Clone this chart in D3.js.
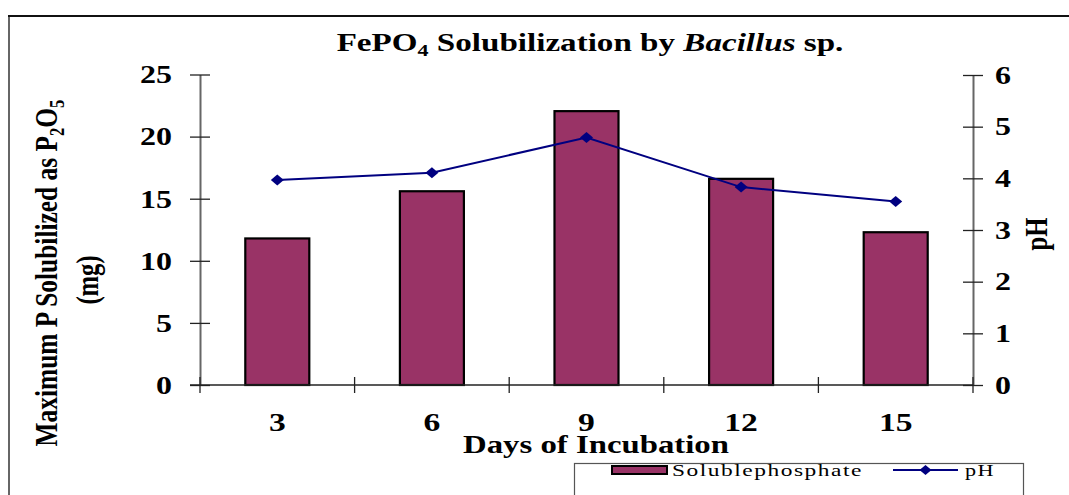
<!DOCTYPE html>
<html>
<head>
<meta charset="utf-8">
<script src="https://cdn.jsdelivr.net/npm/d3@7"></script>
<style>
  html, body { margin: 0; padding: 0; background: #fff; }
  svg { display: block; }
</style>
</head>
<body>
<svg id="chart" width="1069" height="495"></svg>
<script>
// Incubation days (categories) and the two measured series
const days = ["3", "6", "9", "12", "15"];
const solublePhosphate = [11.8, 15.6, 22.05, 16.6, 12.3];   // mg P2O5
const pHValues = [3.97, 4.11, 4.79, 3.83, 3.55];
const leftTicks = [0, 5, 10, 15, 20, 25];
const rightTicks = [0, 1, 2, 3, 4, 5, 6];
const seriesNames = ["Solublephosphate", "pH"];

const SQ = 0.77;            // vertical squash applied to all lettering
const SERIF = "'Liberation Serif', 'Times New Roman', serif";
const BAR_FILL = "#993366";
const LINE_COL = "#000080";

const svg = d3.select("#chart");

// Frame
svg.append("line").attr("x1", 9).attr("x2", 9).attr("y1", 15).attr("y2", 495)
  .attr("stroke", "#666").attr("stroke-width", 2);
svg.append("line").attr("x1", 8).attr("x2", 1069).attr("y1", 16).attr("y2", 16)
  .attr("stroke", "#111").attr("stroke-width", 2);

const plot = { left: 200, right: 973, top: 74.5, bottom: 385 };

const xCat = d3.scaleBand().domain(days).range([plot.left, plot.right]).padding(0);
const xBar = d3.scaleBand().domain(days).range([plot.left, plot.right])
  .paddingInner(0.586).paddingOuter(0.293);
const y = d3.scaleLinear().domain([0, 25]).range([plot.bottom, plot.top]);
const yR = d3.scaleLinear().domain([0, 6]).range([plot.bottom, 75]);

// Bars
svg.append("g").selectAll("rect").data(solublePhosphate).join("rect")
  .attr("x", (d, i) => xBar(days[i]))
  .attr("width", xBar.bandwidth())
  .attr("y", d => y(d))
  .attr("height", d => y(0) - y(d))
  .attr("fill", BAR_FILL)
  .attr("stroke", "#000")
  .attr("stroke-width", 2.2);

// Left axis
const gL = svg.append("g").attr("transform", `translate(${plot.left},0)`)
  .call(d3.axisLeft(y).tickValues(leftTicks).tickFormat(d3.format("d"))
    .tickSize(10).tickSizeOuter(0).tickPadding(18));
gL.select(".domain").attr("stroke", "#666").attr("stroke-width", 2);
gL.selectAll(".tick line").attr("x1", 10).attr("stroke", "#222").attr("stroke-width", 1.3);

// Right axis
const gR = svg.append("g").attr("transform", `translate(${plot.right},0)`)
  .call(d3.axisRight(yR).tickValues(rightTicks).tickFormat(d3.format("d"))
    .tickSize(10).tickSizeOuter(0).tickPadding(12));
gR.select(".domain").attr("stroke", "#666").attr("stroke-width", 2);
gR.selectAll(".tick line").attr("x1", -10).attr("stroke", "#222").attr("stroke-width", 1.3);

[gL, gR].forEach(g => {
  g.attr("font-family", SERIF).attr("font-size", 32).attr("font-weight", "bold");
  g.selectAll(".tick text").attr("dy", null).attr("fill", "#000")
    .attr("transform", `scale(1,${SQ})`).attr("y", 8.3 / SQ);
});

// Bottom axis: labels at category centres, ticks at category boundaries
const gB = svg.append("g").attr("transform", `translate(0,${plot.bottom})`)
  .call(d3.axisBottom(xCat).tickSize(0).tickSizeOuter(0).tickPadding(0));
gB.select(".domain").attr("stroke", "#222").attr("stroke-width", 1.5)
  .attr("d", `M${plot.left - 10},0H${plot.right}`);
gB.attr("font-family", SERIF).attr("font-size", 32).attr("font-weight", "bold");
gB.selectAll(".tick text").attr("dy", null).attr("y", 46 / SQ)
  .attr("transform", `scale(1.05,${SQ})`).attr("fill", "#000");
const bounds = days.map(d => xCat(d)).concat([xCat(days[days.length - 1]) + xCat.step()]);
gB.append("g").selectAll("line").data(bounds).join("line")
  .attr("x1", d => d).attr("x2", d => d).attr("y1", -8).attr("y2", 8)
  .attr("stroke", "#222").attr("stroke-width", 1.3);

// pH line with diamond markers
const pts = pHValues.map((v, i) => [xCat(days[i]) + xCat.bandwidth() / 2, yR(v)]);
svg.append("path").attr("d", d3.line()(pts))
  .attr("fill", "none").attr("stroke", LINE_COL).attr("stroke-width", 2);
const diamond = (cx, cy, w, h) => `M${cx},${cy - h}L${cx + w},${cy}L${cx},${cy + h}L${cx - w},${cy}Z`;
svg.append("g").selectAll("path").data(pts).join("path")
  .attr("d", p => diamond(p[0], p[1], 6.5, 5.5)).attr("fill", LINE_COL);

// Lettering helpers
function hText(x, y, size, weight, anchor, build, width) {
  const t = svg.append("text").attr("font-family", SERIF).attr("font-size", size)
    .attr("font-weight", weight).attr("text-anchor", anchor).attr("fill", "#000");
  build(t);
  let sx = 1;
  if (width) sx = width / t.node().getComputedTextLength();
  t.attr("transform", `translate(${x},${y}) scale(${sx},${SQ})`);
  return t;
}
function vText(x, y, size, build, length) {
  const t = svg.append("text").attr("font-family", SERIF).attr("font-size", size)
    .attr("font-weight", "bold").attr("text-anchor", "middle").attr("fill", "#000");
  build(t);
  let sx = 1;
  if (length) sx = length / SQ / t.node().getComputedTextLength();
  t.attr("transform", `translate(${x},${y}) scale(1,${SQ}) rotate(-90) scale(${sx},1)`);
  return t;
}

// Title
hText(590, 51, 33, "bold", "middle", t => {
  t.append("tspan").text("FePO");
  t.append("tspan").attr("font-size", 22).attr("dy", 7).text("4");
  t.append("tspan").attr("dy", -7).text(" Solubilization by ");
  t.append("tspan").attr("font-style", "italic").text("Bacillus");
  t.append("tspan").text(" sp.");
}, 507);

// Axis titles
hText(596, 453, 32, "bold", "middle", t => t.text("Days of Incubation"), 266);

vText(57, 273, 32, t => {
  t.append("tspan").text("Maximum P Solubilized as P");
  t.append("tspan").attr("font-size", 21).attr("dy", 7).text("2");
  t.append("tspan").attr("dy", -7).text("O");
  t.append("tspan").attr("font-size", 21).attr("dy", 7).text("5");
}, 347);
vText(98, 280, 32, t => t.text("(mg)"));
vText(1047, 234, 32, t => t.text("pH"));

// Legend
const lg = svg.append("g");
lg.append("rect").attr("x", 574.5).attr("y", 463.5).attr("width", 449).attr("height", 40)
  .attr("fill", "#fff").attr("stroke", "#555").attr("stroke-width", 1.2);
lg.append("rect").attr("x", 612).attr("y", 466).attr("width", 55).attr("height", 8)
  .attr("fill", BAR_FILL).attr("stroke", "#000").attr("stroke-width", 2);
hText(672, 476, 23, "normal", "start", t => t.attr("letter-spacing", 1.5).text(seriesNames[0]), 191);
lg.append("line").attr("x1", 893).attr("x2", 958).attr("y1", 470).attr("y2", 470)
  .attr("stroke", LINE_COL).attr("stroke-width", 2);
lg.append("path").attr("d", diamond(925.5, 470, 6, 5)).attr("fill", LINE_COL);
hText(965, 476, 23, "normal", "start", t => t.attr("letter-spacing", 1.5).text(seriesNames[1]), 30);
</script>
</body>
</html>
